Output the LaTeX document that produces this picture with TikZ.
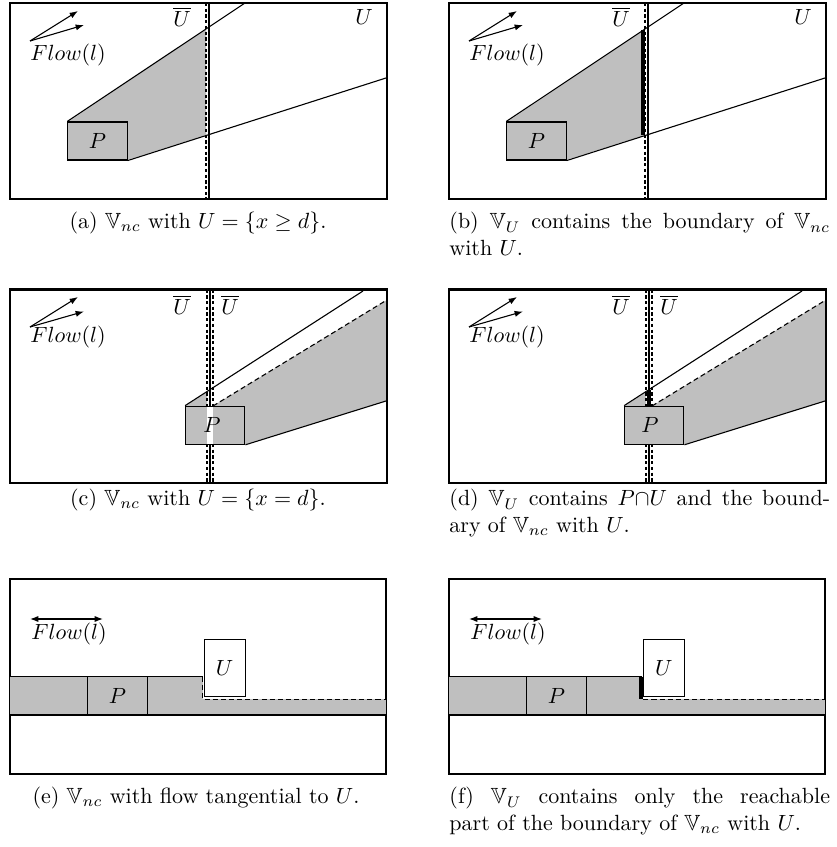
\documentclass[tikz,border=0pt]{standalone}
\usepackage{amsmath,amssymb}
\usepackage{tikz}
\usetikzlibrary{arrows.meta,positioning,calc}

\tikzset{
  panelframe/.style={line width=1pt},
  thinline/.style={line width=0.5pt},
  cutline/.style={line width=1.1pt, dash pattern=on 1.5pt off 1.1pt},
  hidden/.style={line width=0.5pt, dash pattern=on 2.3pt off 1.4pt},
  reachline/.style={line width=1.8pt},
  greyfill/.style={fill=gray!50},
  flowtip/.style={-{Latex[length=3.8pt,width=2.8pt]}},
  pbox/.style={draw, thinline, fill=gray!50, inner sep=0pt, minimum width=26.9pt, minimum height=17.3pt},
  ubox/.style={draw, thinline, fill=white, inner sep=0pt, minimum width=18.5pt, minimum height=26.2pt},
  capl/.style={align=center, inner sep=0pt},
  capr/.style={anchor=north west, text width=173pt, align=justify, inner sep=0pt}
}

\begin{document}
\begin{tikzpicture}[x=0.4545pt, y=-0.4545pt]
  \useasboundingbox (0,0) rectangle (837,847);

  % row 1: U = {x >= d}
  \fill[greyfill] (68,122) -- (206,29.2) -- (206,135) -- (127,160) -- cycle;
  \fill[greyfill] (507,122) -- (643.5,30.2) -- (643.5,135.5) -- (566,160) -- cycle;
  \foreach \dx in {0,439}{
  \begin{scope}[shift={(\dx,0)}]
    \draw[panelframe] (10,3) rectangle (387,199);
    \draw[panelframe] (208.9,3) -- (208.9,199);
    \draw[cutline] (206.2,3) -- (206.2,199);
    \node[pbox] (p) at (97.5,141) {$P$};
    \coordinate (up) at (245,3);
    \coordinate (lo) at (386,78);
    \draw[thinline] (p.north west) -- (up);
    \draw[thinline] (p.south east) -- (lo);
    \node (ub) at (182,17) {$\overline{U}$};
    \node (u) at (364,17) {$U$};
    \coordinate (fo) at (30,41);
    \coordinate (f1) at (78,11);
    \coordinate (f2) at (84,25);
    \draw[thinline,flowtip] (fo) -- (f1);
    \draw[thinline,flowtip] (fo) -- (f2);
    \node[anchor=west, inner sep=0pt] (fl) at (30,55) {$Flow(l)$};
  \end{scope}}
  \draw[reachline] (643.3,30.2) -- (643.3,135.5);

  \node[capl] (capa) at (198,223) {(a) $\mathbb{V}_{nc}$ with $U=\{x\geq d\}$.};
  \node[capr] (capb) at (449,212) {(b) $\mathbb{V}_U$ contains the boundary of $\mathbb{V}_{nc}$ with $U$.};

  % row 2: U = {x = d}
  \foreach \dx in {0,439}{
  \begin{scope}[shift={(\dx,0)}]
    \fill[greyfill] (213,406) -- (386,300.5) -- (386,401) -- (245,444.3) -- (245,406) -- cycle;
    \fill[greyfill] (185.7,406) -- (207,392.2) -- (207,406) -- cycle;
    \draw[panelframe] (10,289.5) rectangle (387,483);
    \draw[cutline] (207,289.5) -- (207,483);
    \draw[thinline] (210,289.5) -- (210,483);
    \draw[cutline] (213,289.5) -- (213,483);
    \node[pbox] (p) at (215.3,425.2) {};
    \coordinate (up) at (363,291);
    \coordinate (lo) at (386,401);
    \coordinate (da) at (213,406);
    \coordinate (db) at (386,300.5);
    \draw[thinline] (p.north west) -- (up);
    \draw[thinline] (p.south east) -- (lo);
    \draw[hidden] (da) -- (db);
    \node (ub) at (182,305) {$\overline{U}$};
    \node (ub2) at (230,305) {$\overline{U}$};
    \coordinate (fo) at (30,327);
    \coordinate (f1) at (78,297);
    \coordinate (f2) at (84,311.5);
    \draw[thinline,flowtip] (fo) -- (f1);
    \draw[thinline,flowtip] (fo) -- (f2);
    \node[anchor=west, inner sep=0pt] (fl) at (30,337) {$Flow(l)$};
  \end{scope}}
  % (c): the strip x = d is cut out of P
  \fill[white] (207,406.6) rectangle (213,443.7);
  \node (pc) at (212,425.2) {$P$};
  % (d): P meets U
  \node (pd) at (650,425.2) {$P$};
  \draw[reachline] (649,390.3) -- (649,406);

  \node[capl] (capc) at (198,500) {(c) $\mathbb{V}_{nc}$ with $U=\{x=d\}$.};
  \node[capr] (capd) at (449,489) {(d) $\mathbb{V}_U$ contains $P{\cap}U$ and the bound-\linebreak ary of $\mathbb{V}_{nc}$ with $U$.};

  % row 3: flow tangential to U
  \foreach \dx in {0,439}{
  \begin{scope}[shift={(\dx,0)}]
    \draw[panelframe] (10,579) rectangle (386,774);
    \fill[greyfill] (10,676.7) rectangle (202.7,715);
    \fill[greyfill] (202.7,699.3) rectangle (386,715);
    \draw[thinline] (10,676.7) -- (202.7,676.7);
    \draw[thinline] (10,715) -- (386,715);
    \node[pbox] (p) at (117.5,695.9) {$P$};
    \node[ubox] (u) at (224.7,667.9) {$U$};
    \coordinate (fa) at (30,619);
    \coordinate (fb) at (103,619);
    \draw[thinline,{Latex[length=3.8pt,width=2.8pt]}-{Latex[length=3.8pt,width=2.8pt]}] (fa) -- (fb);
    \node[anchor=west, inner sep=0pt] (fl) at (31,634) {$Flow(l)$};
  \end{scope}}
  \draw[hidden] (202.7,676.7) -- (202.7,699.3) -- (386,699.3);
  \draw[hidden] (643.3,699.3) -- (825,699.3);
  \draw[reachline] (641,676.7) -- (641,699.3);

  \node[capl] (cape) at (196,798) {(e) $\mathbb{V}_{nc}$ with flow tangential to $U$.};
  \node[capr] (capf) at (449,787) {(f) $\mathbb{V}_U$ contains only the reachable\linebreak part of the boundary of $\mathbb{V}_{nc}$ with $U$.};
\end{tikzpicture}
\end{document}
